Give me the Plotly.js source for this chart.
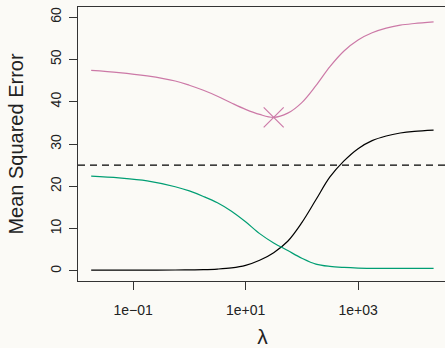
<!DOCTYPE html>
<html>
<head>
<meta charset="utf-8">
<script src="https://cdn.plot.ly/plotly-3.0.1.min.js"></script>
<style>
html, body { margin: 0; padding: 0; overflow: hidden; background: #fbfaf6; }
#chart { width: 447px; height: 348px; }
</style>
</head>
<body>
<div id="chart"></div>
<script>
// lambda grid (log scale)
const lambda = [0.018, 0.056, 0.178, 0.562, 1, 1.78, 3.16, 5.62, 10, 17.8, 31.6, 56.2, 100, 178, 316, 562, 1000, 1780, 3160, 5620, 10000, 22000];
// squared bias (black)
const bias = [0.15, 0.15, 0.16, 0.2, 0.22, 0.28, 0.42, 0.7, 1.3, 2.5, 4.3, 7.0, 11.4, 16.8, 22.2, 26.0, 28.9, 30.8, 31.9, 32.6, 33.0, 33.3];
// variance (green)
const variance = [22.4, 22.0, 21.3, 19.9, 18.9, 17.6, 16.1, 14.1, 11.6, 8.8, 6.6, 4.8, 3.0, 1.6, 1.05, 0.8, 0.66, 0.6, 0.58, 0.57, 0.57, 0.57];
// test MSE (pink)
const testMSE = [47.4, 46.9, 46.1, 44.9, 43.9, 42.7, 41.3, 39.7, 38.2, 37.0, 36.3, 37.3, 39.8, 43.8, 48.3, 52.0, 54.6, 56.3, 57.4, 58.1, 58.5, 58.9];
// minimum possible MSE (dashed)
const minPossibleMSE = 25;
const xTickVals = [0.1, 10, 1000];
const xTickText = ['1e\u221201', '1e+01', '1e+03'];
const yTickVals = [0, 10, 20, 30, 40, 50, 60];

let iMin = 0;
testMSE.forEach((v, i) => { if (v < testMSE[iMin]) iMin = i; });

const lineW = 1.2;
const traces = [
  { x: lambda, y: bias, mode: 'lines', line: { color: '#000000', width: lineW, shape: 'spline' } },
  { x: lambda, y: variance, mode: 'lines', line: { color: '#009E73', width: lineW, shape: 'spline' } },
  { x: lambda, y: testMSE, mode: 'lines', line: { color: '#CC79A7', width: lineW, shape: 'spline' } },
  { x: [lambda[iMin]], y: [testMSE[iMin]], mode: 'markers',
    marker: { symbol: 'x-thin-open', size: 20, color: '#CC79A7', line: { color: '#CC79A7', width: 1.2 } } }
];

const font = 'Liberation Sans, Arial, Helvetica, sans-serif';
const layout = {
  width: 447, height: 348,
  margin: { l: 78, r: 0, t: 7, b: 67 },
  paper_bgcolor: '#fbfaf6', plot_bgcolor: '#fbfaf6',
  showlegend: false,
  hovermode: false,
  font: { family: font, color: '#222' },
  xaxis: {
    type: 'log', range: [-1.979, 4.581],
    tickvals: xTickVals, ticktext: xTickText,
    showgrid: false, zeroline: false,
    showline: true, mirror: true, linecolor: '#333', linewidth: 1,
    ticks: 'outside', ticklen: 8, tickwidth: 1, tickcolor: '#333',
    tickfont: { size: 14, family: font, color: '#222' },
    ticklabelstandoff: 8,
    title: { text: '\u03bb', font: { size: 21, family: font, color: '#222' }, standoff: 12 }
  },
  yaxis: {
    range: [-2.4, 62.4],
    tickvals: yTickVals,
    showgrid: false, zeroline: false,
    showline: true, mirror: true, linecolor: '#333', linewidth: 1,
    ticks: 'outside', ticklen: 8, tickwidth: 1, tickcolor: '#333',
    tickangle: -90,
    tickfont: { size: 14, family: font, color: '#222' },
    ticklabelstandoff: 2,
    title: { text: 'Mean Squared Error', font: { size: 20, family: font, color: '#222' }, standoff: 19 }
  },
  shapes: [{
    type: 'line', xref: 'paper', x0: 0, x1: 1, yref: 'y', y0: minPossibleMSE, y1: minPossibleMSE,
    line: { color: '#000', width: 1.1, dash: '7px,5px' }
  }]
};

Plotly.newPlot('chart', traces, layout, { displayModeBar: false, staticPlot: true });
</script>
</body>
</html>
